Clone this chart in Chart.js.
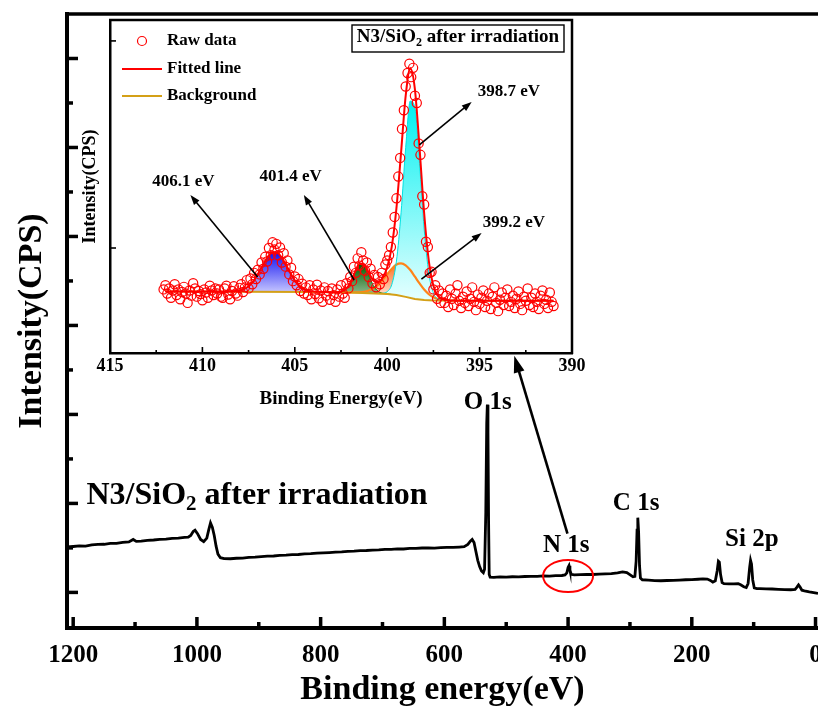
<!DOCTYPE html>
<html>
<head>
<meta charset="utf-8">
<script src="https://cdn.jsdelivr.net/npm/chart.js@4.4.1/dist/chart.umd.min.js"></script>
<style>
  body { margin: 0; background: #fff; }
  #wrap { position: relative; width: 818px; height: 711px; overflow: hidden; }
  #survey { position: absolute; left: 0; top: 0; }
  #inset { position: absolute; left: 80px; top: 0; }
</style>
</head>
<body>
<div id="wrap">
  <canvas id="survey" width="818" height="711"></canvas>
  <canvas id="inset" width="520" height="410"></canvas>
</div>
<script>
const SERIF = "'Liberation Serif', 'Times New Roman', serif";

// ---- survey spectrum (binding energy in eV, counts in arb. units) ----
const surveyEnergy = [1210,1200,1190,1180,1170,1160,1150,1140,1130,1120,
  1110,1103,1098,1090,1080,1070,1060,1050,1040,1030,
  1020,1014,1010,1006,1003,999,994,989,984,981,
  978,975,972,969,966,962,956,946,936,926,
  916,906,896,886,876,866,856,846,836,826,
  816,806,796,786,776,766,756,746,736,726,
  716,706,696,686,676,666,656,646,636,626,
  616,606,596,586,576,568,562,558,555,552,
  549,546,543,540,537,535,533,531.5,530.5,529.5,
  528.5,527.5,526,520,510,500,490,480,470,460,
  450,440,430,420,410,405,402,400,398.5,397,
  395,390,380,370,360,350,340,330,320,312,
  305,299,295,292,290,288.5,287.3,286,284.5,283,
  280,270,260,250,240,230,220,210,200,190,
  182,175,170,166,162,159,157,155.5,153.5,151,
  148,140,132,125,121,116,112,109,106.5,105,
  103.5,101.5,99,95,90,80,70,60,50,40,
  33,30,27.5,25,22,18,10,3,-4];
const surveyCounts = [91.0,91.6,92.3,92.0,93.4,93.9,94.1,95.2,95.0,96.3,
  96.8,99.5,97.4,97.6,98.5,98.9,99.6,99.8,100.7,100.9,
  101.8,102.0,104,108.5,110,106,99.5,97,101,110,
  118,113,104,92,83,79,78,77.8,78.4,78.6,
  79.3,79.6,80.1,80.7,80.9,81.6,81.8,82.4,82.6,83.3,
  83.5,84.1,84.4,84.8,85.3,85.6,86.2,86.3,86.9,87.1,
  87.6,87.8,88.3,88.4,88.9,88.8,89.4,89.5,89.9,90.1,
  89.8,90.4,90.6,90.5,91.0,91.5,94,97.5,99.5,96,
  86,76,69,64,62,66,130,230,251,220,
  120,60,57.2,57.0,57.4,57.2,57.6,57.5,57.9,58.0,
  58.1,58.5,58.4,58.8,59.0,59.6,62,68,70,65,
  60.4,59.6,59.9,60.2,60.1,60.6,60.9,61.2,62.0,63.0,
  62.2,59.5,57.5,58,75,110,124,108,70,56,
  54.2,53.8,53.3,53.1,53.4,53.6,53.9,54.2,54.3,54.8,
  55.2,55.0,53.5,51.5,53,64,75,74,60,51,
  49.8,49.6,49.5,49.8,48.6,46.4,45.5,50,68,76,
  72,54,45,44.3,44.2,44.0,43.8,43.5,43.2,43.0,
  43.5,46,48.5,46,42.5,41.8,40.6,39.8,39.0];

const surveyXTicks = [0,100,200,300,400,500,600,700,800,900,1000,1100,1200];
const surveyYTicks = [40,90,140,190,240,290,340,390,440,490,540,590,640];

// ---- N 1s high resolution ----
const rawStart = 412.1;
const rawCounts = [600,
  640,560,610,520,590,650,545,600,505,575,
  625,560,470,590,540,660,610,530,585,555,
  495,600,570,520,635,590,545,610,560,600,530,
  520,610,635,550,505,585,630,560,540,615,
  650,575,620,690,610,705,650,760,700,790,
  745,860,800,915,870,1000,930,1055,985,1040,
  930,1005,860,950,820,880,745,810,680,725,
  640,700,585,655,560,620,545,640,505,600,
  555,645,515,590,480,
  620,540,585,500,610,545,480,600,530,640,
  560,520,660,610,720,680,820,760,900,830,
  960,880,780,860,720,800,660,740,620,720,
  650,760,700,840,880,
  930,1010,1150,1300,1480,1690,1870,2150,2330,2560,
  2690,2780,2650,2740,2470,2400,2010,1900,1500,1420,
  1060,1010,760,770,600,640,510,590,470,560,
  470,540,430,600,510,450,560,640,490,420,
  530,470,580,440,510,620,480,400,550,460,
  520,590,430,490,560,410,530,620,470,390,
  500,570,450,520,600,440,480,540,420,510,
  580,460,400,530,490,610,450,520,430,560,
  480,410,540,590,460,500,420,570,480,440];

const fitStart = 412.0;
const fitCounts = [580,580,580,580,580,579,579,579,579,579,579,579,579,
  578,579,582,588,602,630,678,747,828,905,954,959,918,844,762,689,636,604,588,580,577,575,574,573,
  573,578,601,663,765,848,843,762,686,670,712,815,1016,1385,1921,2470,2737,2532,1966,1335,878,635,537,505,
  496,493,492,491,491,491,491,491,491,491,490,490,490,490,490,490,490,490,490,490,490,490,490,490];

const bgEnergy = [412,404,402,401,400,399.5,399,398.5,398,397.5,391];
const bgCounts = [580,576,570,564,556,546,528,508,497,492,490];

const peak4061Energy = [409,408.75,408.5,408.25,408,407.75,407.5,407.25,407,406.75,406.5,406.25,
  406,405.75,405.5,405.25,405,404.75,404.5,404.25,404,403.75,403.5];
const peak4061Counts = [579,578,579,582,588,602,630,678,747,828,905,954,
  959,918,844,762,689,636,604,588,580,577,575];

const peak4014Energy = [403,402.75,402.5,402.25,402,401.75,401.5,401.25,401,400.75,400.5,400.25,400,399.75];
const peak4014Counts = [573,573,578,601,663,763,843,831,737,638,583,563,557,551];

const peak3992Energy = [402.5,402.25,402,401.75,401.5,401.25,401,400.75,400.5,400.25,
  400,399.75,399.5,399.25,399,398.75,398.5,398.25,398,397.75,
  397.5,397.25,397,396.75,396.5,396.25,396];
const peak3992Counts = [572,571,571,571,572,577,589,610,644,691,
  747,800,840,851,833,787,723,658,599,555,
  525,508,499,495,493,492,491];

const peak3987Energy = [400.25,400,399.75,399.5,399.25,399,398.75,398.5,
  398.25,398,397.75,397.5,397.25,397,396.75];
const peak3987Counts = [562,578,649,874,1339,1969,2420,2353,
  1817,1184,758,566,507,494,492];

const insetXTicks = [390,392.5,395,397.5,400,402.5,405,407.5,410,412.5,415];
const insetYTicks = [1000,3000];

// annotation anchors (energy, counts)
const surveyPeakLabels = [
  {text: 'O 1s', e: 530, v: 253},
  {text: 'N 1s', e: 403, v: 93},
  {text: 'C 1s', e: 290, v: 140},
  {text: 'Si 2p', e: 103, v: 99}
];
const insetPeakLabels = [
  {text: '406.1 eV', label: [411.03, 1638], head: [410.65, 1512], tail: [407.01, 720]},
  {text: '401.4 eV', label: [405.22, 1686], head: [404.51, 1512], tail: [401.79, 691]},
  {text: '399.2 eV', label: [393.15, 1242], head: [394.89, 1145], tail: [398.15, 700]},
  {text: '398.7 eV', label: [393.42, 2507], head: [395.43, 2411], tail: [398.26, 1995]}
];

const toPoints = (xs, ys) => xs.map((x, i) => ({x: x, y: ys[i]}));
const rawPoints = rawCounts.map((c, i) => ({x: +(rawStart - i * 0.1).toFixed(1), y: c}));
const fitPoints = fitCounts.map((c, i) => ({x: fitStart - i * 0.25, y: c}));

function arrow(ctx, x0, y0, x1, y1, width, headLen, headW) {
  const a = Math.atan2(y1 - y0, x1 - x0);
  const c = Math.cos(a), s = Math.sin(a);
  ctx.lineWidth = width;
  ctx.beginPath();
  ctx.moveTo(x0, y0);
  ctx.lineTo(x1 - c * headLen * 0.8, y1 - s * headLen * 0.8);
  ctx.stroke();
  ctx.beginPath();
  ctx.moveTo(x1, y1);
  ctx.lineTo(x1 - headLen * c + headW / 2 * s, y1 - headLen * s - headW / 2 * c);
  ctx.lineTo(x1 - headLen * c - headW / 2 * s, y1 - headLen * s + headW / 2 * c);
  ctx.closePath();
  ctx.fill();
}

// text with a subscript part: pieces = [[text, isSub], ...]
function subText(ctx, x, y, size, pieces, align) {
  const big = 'bold ' + size + 'px ' + SERIF;
  const small = 'bold ' + Math.round(size * 0.65) + 'px ' + SERIF;
  let w = 0;
  pieces.forEach(([t, sub]) => { ctx.font = sub ? small : big; w += ctx.measureText(t).width; });
  let cx = align === 'center' ? x - w / 2 : x;
  ctx.textAlign = 'left';
  ctx.textBaseline = 'middle';
  pieces.forEach(([t, sub]) => {
    ctx.font = sub ? small : big;
    ctx.fillText(t, cx, sub ? y + size * 0.3 : y);
    cx += ctx.measureText(t).width;
  });
  return w;
}

function peakFill(top, bottom) {
  return (context) => {
    const chart = context.chart;
    const data = context.dataset ? context.dataset.data : null;
    if (!chart.chartArea || !data) return top;
    const ys = chart.scales.y;
    const hi = Math.max(...data.map(p => p.y));
    const lo = Math.min(...data.map(p => p.y));
    const g = chart.ctx.createLinearGradient(0, ys.getPixelForValue(hi), 0, ys.getPixelForValue(lo));
    g.addColorStop(0, top);
    g.addColorStop(1, bottom);
    return g;
  };
}

// ---------------- survey chart ----------------
const surveyDecor = {
  id: 'surveyDecor',
  afterDraw(chart) {
    const {ctx, chartArea: a, scales: {x, y}} = chart;
    ctx.save();
    ctx.strokeStyle = '#000';
    ctx.fillStyle = '#000';
    ctx.lineCap = 'butt';

    ctx.lineWidth = 3.5;
    ctx.beginPath();
    ctx.moveTo(a.left - 2, a.top);
    ctx.lineTo(a.right, a.top);
    ctx.stroke();

    // ticks pointing into the plot
    surveyXTicks.forEach(v => {
      const p = x.getPixelForValue(v);
      const len = v % 200 === 0 ? 11 : 6;
      ctx.beginPath(); ctx.moveTo(p, a.bottom); ctx.lineTo(p, a.bottom - len); ctx.stroke();
    });
    surveyYTicks.forEach(v => {
      const p = y.getPixelForValue(v);
      const len = (v - 40) % 100 === 0 ? 11 : 6;
      ctx.beginPath(); ctx.moveTo(a.left, p); ctx.lineTo(a.left + len, p); ctx.stroke();
    });

    ctx.font = 'bold 25px ' + SERIF;
    ctx.textAlign = 'center';
    ctx.textBaseline = 'middle';
    surveyPeakLabels.forEach(l => {
      ctx.fillText(l.text, x.getPixelForValue(l.e), y.getPixelForValue(l.v));
    });

    subText(ctx, x.getPixelForValue(1178.5), y.getPixelForValue(149), 32,
      [['N3/SiO', false], ['2', true], [' after irradiation', false]], 'left');

    // N 1s marker and pointer to the detail plot
    ctx.strokeStyle = '#ff0000';
    ctx.lineWidth = 2;
    ctx.beginPath();
    ctx.ellipse(x.getPixelForValue(400), y.getPixelForValue(58.4), 25, 16, 0, 0, Math.PI * 2);
    ctx.stroke();
    ctx.strokeStyle = '#000';
    arrow(ctx, x.getPixelForValue(401), y.getPixelForValue(106),
      x.getPixelForValue(487), y.getPixelForValue(306), 2.6, 17, 11);
    ctx.restore();
  }
};

new Chart(document.getElementById('survey'), {
  type: 'line',
  data: {
    datasets: [{
      data: toPoints(surveyEnergy, surveyCounts),
      borderColor: '#000',
      borderWidth: 2.8,
      pointRadius: 0,
      tension: 0,
      fill: false
    }]
  },
  options: {
    responsive: false,
    animation: false,
    layout: {padding: {top: 14, right: 0, left: 0, bottom: 0}},
    plugins: {legend: {display: false}, tooltip: {enabled: false}},
    scales: {
      x: {
        type: 'linear',
        min: -4,
        max: 1210,
        reverse: true,
        afterBuildTicks: s => { s.ticks = surveyXTicks.map(v => ({value: v})); },
        afterFit: s => { s.height = 83; s.paddingLeft = 0; s.paddingRight = 0; },
        grid: {display: false, drawTicks: false},
        border: {display: true, width: 4, color: '#000'},
        ticks: {
          autoSkip: false, maxRotation: 0, padding: 13, color: '#000',
          font: {family: SERIF, weight: 'bold', size: 25},
          callback: v => (v % 200 === 0 ? v : '')
        },
        title: {
          display: true, text: 'Binding energy(eV)', color: '#000',
          font: {family: SERIF, weight: 'bold', size: 34},
          padding: {top: 0, bottom: 0}
        }
      },
      y: {
        min: 0,
        max: 690,
        afterBuildTicks: s => { s.ticks = surveyYTicks.map(v => ({value: v})); },
        afterFit: s => { s.width = 67; s.paddingTop = 0; s.paddingBottom = 0; },
        grid: {display: false, drawTicks: false},
        border: {display: true, width: 4, color: '#000'},
        ticks: {display: false},
        title: {
          display: true, text: 'Intensity(CPS)', color: '#000',
          font: {family: SERIF, weight: 'bold', size: 34},
          padding: {top: 12, bottom: 0}
        }
      }
    }
  },
  plugins: [surveyDecor]
});

// ---------------- N 1s detail chart ----------------
const insetDecor = {
  id: 'insetDecor',
  afterDraw(chart) {
    const {ctx, chartArea: a, scales: {x, y}} = chart;
    const ds = chart.data.datasets;
    ctx.save();
    ctx.strokeStyle = '#000';
    ctx.fillStyle = '#000';

    ctx.lineWidth = 2.5;
    ctx.beginPath();
    ctx.moveTo(a.left - 1, a.top);
    ctx.lineTo(a.right, a.top);
    ctx.lineTo(a.right, a.bottom + 1);
    ctx.stroke();

    ctx.lineWidth = 1.6;
    insetXTicks.forEach(v => {
      const p = x.getPixelForValue(v);
      const len = v % 5 === 0 ? 6 : 3;
      ctx.beginPath(); ctx.moveTo(p, a.bottom); ctx.lineTo(p, a.bottom - len); ctx.stroke();
    });
    insetYTicks.forEach(v => {
      const p = y.getPixelForValue(v);
      ctx.beginPath(); ctx.moveTo(a.left, p); ctx.lineTo(a.left + 6, p); ctx.stroke();
    });

    // legend
    const rows = [a.top + 21, a.top + 49, a.top + 76];
    ctx.strokeStyle = ds[0].pointBorderColor;
    ctx.lineWidth = 1.2;
    ctx.beginPath(); ctx.arc(a.left + 32, rows[0], 4.5, 0, Math.PI * 2); ctx.stroke();
    ctx.lineWidth = 2;
    ctx.strokeStyle = ds[1].borderColor;
    ctx.beginPath(); ctx.moveTo(a.left + 12, rows[1]); ctx.lineTo(a.left + 52, rows[1]); ctx.stroke();
    ctx.strokeStyle = ds[2].borderColor;
    ctx.beginPath(); ctx.moveTo(a.left + 12, rows[2]); ctx.lineTo(a.left + 52, rows[2]); ctx.stroke();
    ctx.font = 'bold 17px ' + SERIF;
    ctx.textAlign = 'left';
    ctx.textBaseline = 'middle';
    ['Raw data', 'Fitted line', 'Background'].forEach((t, i) => ctx.fillText(t, a.left + 57, rows[i]));

    // title box
    ctx.strokeStyle = '#000';
    ctx.lineWidth = 1.4;
    ctx.strokeRect(a.left + 242, a.top + 5, 212, 27);
    subText(ctx, a.left + 348, a.top + 17.5, 19,
      [['N3/SiO', false], ['2', true], [' after irradiation', false]], 'center');

    // component labels with pointers
    ctx.font = 'bold 17px ' + SERIF;
    ctx.textAlign = 'center';
    ctx.textBaseline = 'middle';
    insetPeakLabels.forEach(l => {
      ctx.fillText(l.text, x.getPixelForValue(l.label[0]), y.getPixelForValue(l.label[1]));
      arrow(ctx, x.getPixelForValue(l.tail[0]), y.getPixelForValue(l.tail[1]),
        x.getPixelForValue(l.head[0]), y.getPixelForValue(l.head[1]), 1.6, 10, 7);
    });
    ctx.restore();
  }
};

new Chart(document.getElementById('inset'), {
  type: 'line',
  data: {
    datasets: [
      {
        label: 'Raw data',
        data: rawPoints,
        showLine: false,
        pointRadius: 4.6,
        pointBorderWidth: 1.2,
        pointBorderColor: '#ff0000',
        pointBackgroundColor: 'rgba(255,255,255,0)'
      },
      {
        label: 'Fitted line',
        data: fitPoints,
        borderColor: '#ff0000',
        borderWidth: 2,
        pointRadius: 0,
        cubicInterpolationMode: 'monotone',
        fill: false
      },
      {
        label: 'Background',
        data: toPoints(bgEnergy, bgCounts),
        borderColor: '#d4a017',
        borderWidth: 2,
        pointRadius: 0,
        tension: 0,
        fill: false
      },
      {
        label: '398.7 eV',
        data: toPoints(peak3987Energy, peak3987Counts),
        borderColor: 'rgba(0,225,225,1)',
        borderWidth: 1,
        pointRadius: 0,
        cubicInterpolationMode: 'monotone',
        fill: {target: 2},
        backgroundColor: peakFill('#00f0f0', '#e6ffff')
      },
      {
        label: '401.4 eV',
        data: toPoints(peak4014Energy, peak4014Counts),
        borderColor: '#0a6e0a',
        borderWidth: 1,
        pointRadius: 0,
        cubicInterpolationMode: 'monotone',
        fill: {target: 2},
        backgroundColor: peakFill('#006000', '#8fb98f')
      },
      {
        label: '399.2 eV',
        data: toPoints(peak3992Energy, peak3992Counts),
        borderColor: '#ff8418',
        borderWidth: 2.2,
        pointRadius: 0,
        cubicInterpolationMode: 'monotone',
        fill: {target: 2},
        backgroundColor: peakFill('#ff6a1a', '#fff2ec')
      },
      {
        label: '406.1 eV',
        data: toPoints(peak4061Energy, peak4061Counts),
        borderColor: '#1010e8',
        borderWidth: 1,
        pointRadius: 0,
        cubicInterpolationMode: 'monotone',
        fill: {target: 2},
        backgroundColor: peakFill('#1010f0', '#c4c4ff')
      }
    ]
  },
  options: {
    responsive: false,
    animation: false,
    layout: {padding: {top: 20, right: 28, left: 0, bottom: 0}},
    plugins: {
      legend: {display: false},
      tooltip: {enabled: false},
      filler: {drawTime: 'beforeDatasetsDraw'}
    },
    scales: {
      x: {
        type: 'linear',
        min: 390,
        max: 415,
        reverse: true,
        afterBuildTicks: s => { s.ticks = insetXTicks.map(v => ({value: v})); },
        afterFit: s => { s.height = 57; s.paddingLeft = 0; s.paddingRight = 0; },
        grid: {display: false, drawTicks: false},
        border: {display: true, width: 2.5, color: '#000'},
        ticks: {
          autoSkip: false, maxRotation: 0, padding: 3, color: '#000',
          font: {family: SERIF, weight: 'bold', size: 18},
          callback: v => (v % 5 === 0 ? v : '')
        },
        title: {
          display: true, text: 'Binding Energy(eV)', color: '#000',
          font: {family: SERIF, weight: 'bold', size: 19},
          padding: {top: 4, bottom: 0}
        }
      },
      y: {
        min: -14,
        max: 3202,
        afterBuildTicks: s => { s.ticks = insetYTicks.map(v => ({value: v})); },
        afterFit: s => { s.width = 30; s.paddingTop = 0; s.paddingBottom = 0; },
        grid: {display: false, drawTicks: false},
        border: {display: true, width: 2.5, color: '#000'},
        ticks: {display: false},
        title: {
          display: true, text: 'Intensity(CPS)', color: '#000',
          font: {family: SERIF, weight: 'bold', size: 18},
          padding: {top: 0, bottom: 0}
        }
      }
    }
  },
  plugins: [insetDecor]
});
</script>
</body>
</html>
